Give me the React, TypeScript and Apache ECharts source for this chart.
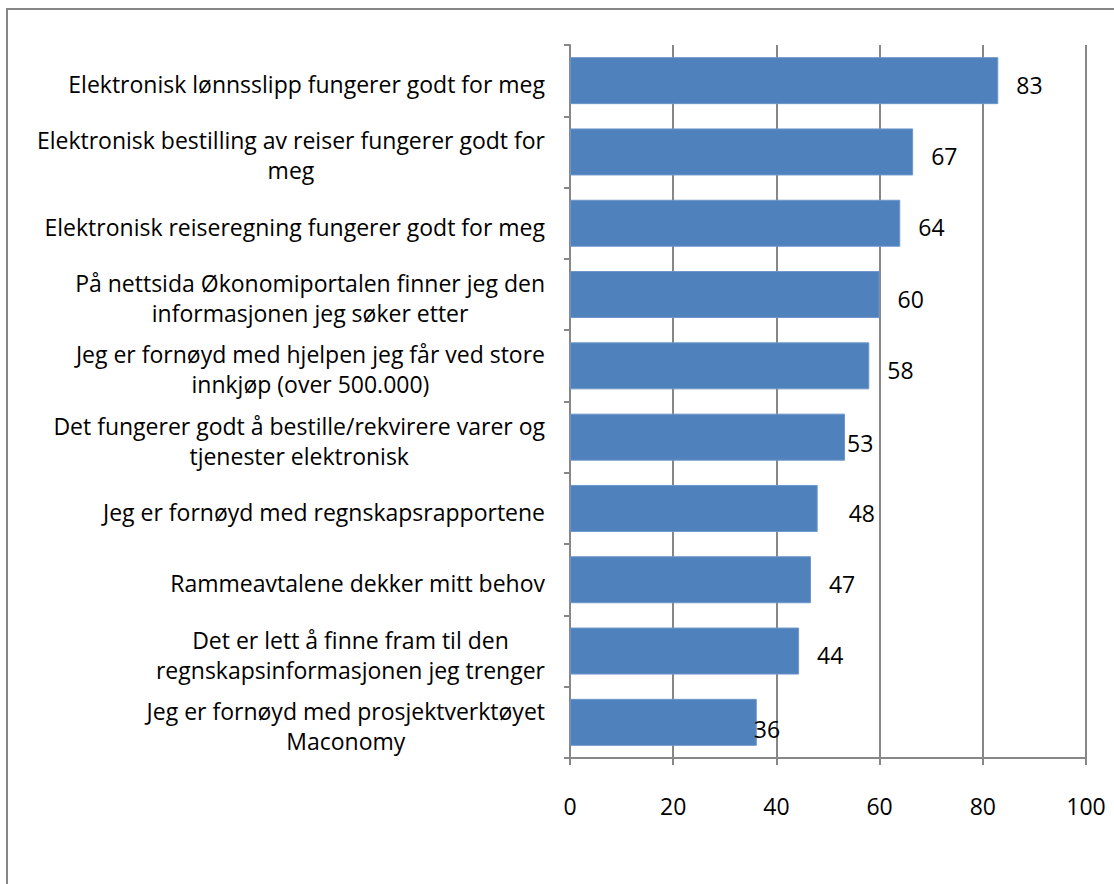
import React, { useEffect, useRef } from "react";
import * as echarts from "echarts";

const categories: string[] = [
  "Elektronisk lønnsslipp fungerer godt for meg",
  "Elektronisk bestilling av reiser fungerer godt for\nmeg",
  "Elektronisk reiseregning fungerer godt for meg",
  "På nettsida Økonomiportalen finner jeg den\ninformasjonen jeg søker etter",
  "Jeg er fornøyd med hjelpen jeg får ved store\ninnkjøp (over 500.000)",
  "Det fungerer godt å bestille/rekvirere varer og\ntjenester elektronisk",
  "Jeg er fornøyd med regnskapsrapportene",
  "Rammeavtalene dekker mitt behov",
  "Det er lett å finne fram til den\nregnskapsinformasjonen jeg trenger",
  "Jeg er fornøyd med prosjektverktøyet\nMaconomy",
];

const values: number[] = [83, 66.5, 64, 60, 58, 53.3, 48, 46.7, 44.4, 36.2];

const xTicks = { min: 0, max: 100, interval: 20 };

const FONT = "Open Sans";
const FS = 23;

export default function App() {
  const ref = useRef<HTMLDivElement>(null);
  useEffect(() => {
    if (!ref.current) return;
    const chart = echarts.init(ref.current, undefined, { renderer: "svg" });
    const labelTweaks: Record<number, { distance: number; dy: number }> = {
      5: { distance: 2, dy: 6 },
      6: { distance: 31, dy: 5 },
      9: { distance: -3, dy: 7 },
    };
    chart.setOption({
      animation: false,
      backgroundColor: "#ffffff",
      textStyle: { fontFamily: FONT },
      graphic: [
        {
          type: "rect",
          shape: { x: 7, y: 9, width: 3000, height: 3000 },
          style: { fill: "none", stroke: "#878787", lineWidth: 2 },
          silent: true,
        },
      ],
      grid: { left: 570, right: 28, top: 45, bottom: 126, containLabel: false },
      xAxis: {
        type: "value",
        min: xTicks.min,
        max: xTicks.max,
        interval: xTicks.interval,
        axisLine: { show: true, lineStyle: { color: "#878787", width: 2 } },
        axisTick: { show: true, length: 7, lineStyle: { color: "#878787", width: 2 } },
        splitLine: { show: true, lineStyle: { color: "#878787", width: 2 } },
        axisLabel: { color: "#000", fontSize: FS, margin: 36, fontFamily: FONT },
      },
      yAxis: {
        type: "category",
        inverse: true,
        data: categories,
        axisLine: { show: true, lineStyle: { color: "#878787", width: 2 } },
        axisTick: { show: true, length: 6, lineStyle: { color: "#878787", width: 2 } },
        axisLabel: {
          color: "#000",
          margin: 25,
          align: "right",
          padding: [7, 0, 0, 0],
          formatter: (v: string) =>
            v
              .split("\n")
              .map((l) => `{c|${l}}`)
              .join("\n"),
          rich: {
            c: { align: "center", fontSize: FS, lineHeight: 30, color: "#000", fontFamily: FONT },
          },
        },
      },
      series: [
        {
          type: "bar",
          barWidth: 47,
          data: values.map((v, i) => {
            const t = labelTweaks[i];
            return t
              ? { value: v, label: { distance: t.distance, offset: [0, t.dy] } }
              : { value: v };
          }),
          itemStyle: { color: "#4F81BD", borderColor: "#6d96c9", borderWidth: 1 },
          label: {
            show: true,
            position: "right",
            distance: 18,
            offset: [0, 4],
            color: "#000",
            fontSize: FS,
            fontFamily: FONT,
            formatter: (p: any) => String(Math.round(p.value)),
          },
        },
      ],
    });
    return () => chart.dispose();
  }, []);
  return (
    <div
      ref={ref}
      style={{ position: "absolute", left: 0, top: 0, width: 1114, height: 884 }}
    />
  );
}
